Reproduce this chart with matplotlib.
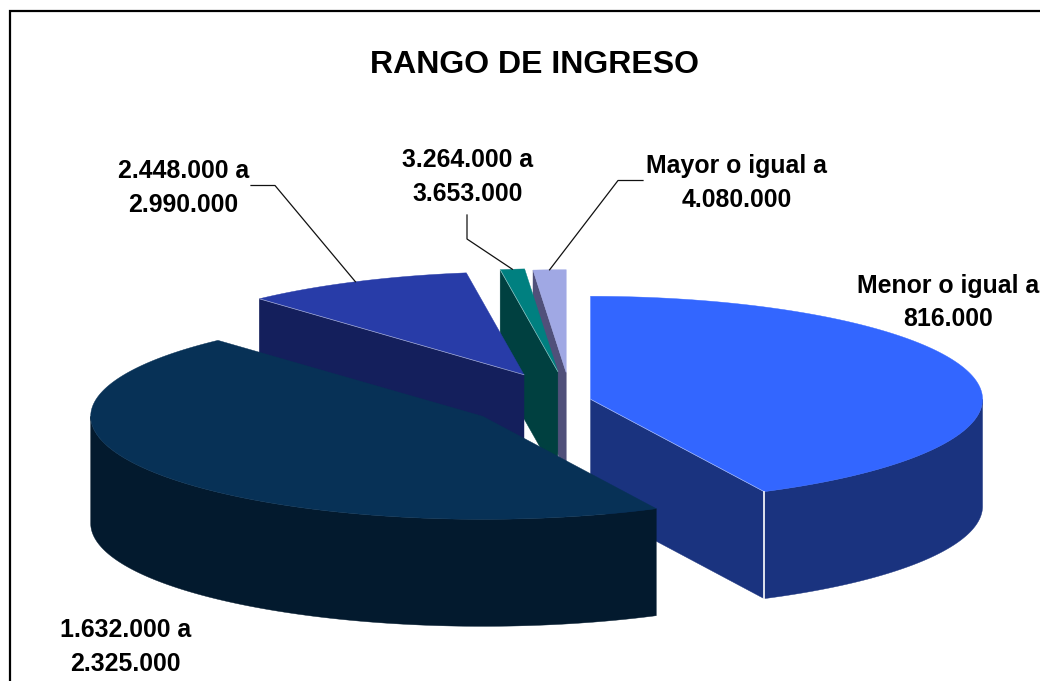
import numpy as np
import matplotlib
matplotlib.use("Agg")
import matplotlib.pyplot as plt
from matplotlib.patches import Polygon

plt.rcParams['font.family'] = ['Liberation Sans', 'DejaVu Sans']

# ---- data ----
title = "RANGO DE INGRESO"
categories = ["Menor o igual a\n816.000", "1.632.000 a\n2.325.000", "2.448.000 a\n2.990.000",
              "3.264.000 a\n3.653.000", "Mayor o igual a\n4.080.000"]
shares = [42.7, 45.5, 9.45, 1.0, 1.35]
explode = [0.052, 0.272, 0.277, 0.283, 0.27]

# ---- style / layout ----
top_colors = ["#3366FF", "#073156", "#283CA8", "#008080", "#A0A8E4"]
side_colors = ["#1A337F", "#031A2E", "#141F5C", "#004040", "#50507A"]
draw_order = [4, 3, 2, 0, 1]
hairline = [True, False, True, True, False]
CX, CY, RX, RY, DEPTH = 570.7, 400.5, 392.0, 103.0, 107.0
label_pos = {0: (948.5, 302.5), 1: (125.5, 647), 2: (183.5, 188), 3: (467.5, 177), 4: (737, 183)}
leaders = {2: [(251, 185.5), (275, 185.5)], 3: [(467, 215), (467, 239)], 4: [(643, 180.5), (618, 180.5)]}

fig = plt.figure(figsize=(10.4, 6.81), dpi=100)
ax = fig.add_axes([0, 0, 1, 1])
ax.set_xlim(0, 1040)
ax.set_ylim(681, 0)
ax.axis("off")

ax.plot([10, 10, 1040], [681, 11, 11], color="black", lw=1.6, solid_joinstyle="miter", zorder=1)

total = sum(shares)
edges = 90 - np.concatenate([[0], np.cumsum(shares)]) / total * 360


def rim_point(c, deg):
    t = np.radians(deg)
    return c[0] + RX * np.cos(t), c[1] - RY * np.sin(t)


geom = []
for i in range(len(shares)):
    a, b = edges[i], edges[i + 1]
    mid = np.radians((a + b) / 2)
    d = explode[i] * RX
    c = (CX + d * np.cos(mid), CY - d * np.sin(mid) * RY / RX)
    geom.append((a, b, c))

z = 2
for i in draw_order:
    a, b, c = geom[i]
    ang = np.linspace(a, b, 200)
    px, py = rim_point(c, ang)
    # cut faces that look at the viewer
    for edge_ang in ([a] if np.cos(np.radians(a)) < -1e-6 else []) + ([b] if np.cos(np.radians(b)) > 1e-6 else []):
        ex, ey = rim_point(c, edge_ang)
        ax.add_patch(Polygon([(ex, ey), c, (c[0], c[1] + DEPTH), (ex, ey + DEPTH)],
                             fc=side_colors[i], ec=side_colors[i], lw=0.3, zorder=z))
    # outer wall (front half of the ellipse)
    lo, hi = max(min(a, b), -180), min(max(a, b), 0)
    if hi > lo:
        wall = np.linspace(lo, hi, 200)
        wx, wy = rim_point(c, wall)
        ax.add_patch(Polygon(np.r_[np.c_[wx, wy], np.c_[wx, wy + DEPTH][::-1]],
                             fc=side_colors[i], ec=side_colors[i], lw=0.3, zorder=z))
    # top surface
    ax.add_patch(Polygon(np.r_[[c], np.c_[px, py]], fc=top_colors[i], ec=top_colors[i], lw=0.3, zorder=z + 0.1))
    # light hairlines on the front edges
    if hairline[i]:
        front = b if i == 0 else a
        ex, ey = rim_point(c, front)
        ax.plot([ex, c[0]], [ey, c[1]], color="white", lw=0.5, alpha=0.55, zorder=z + 0.2)
        if i == 0:
            ax.plot([ex, ex], [ey, ey + DEPTH], color="white", lw=1.2, zorder=z + 0.2)
    z += 1

# leader lines end on the middle of each slice's outer edge
for i, pts in leaders.items():
    a, b, c = geom[i]
    ex, ey = rim_point(c, (a + b) / 2)
    xs, ys = zip(*(pts + [(ex, ey)]))
    ax.plot(xs, ys, color="#111111", lw=0.9, zorder=20)

ax.text(534.5, 65, title, ha="center", va="center", fontsize=23, fontweight="bold", color="black", zorder=30)
for i, label in enumerate(categories):
    x, y = label_pos[i]
    ax.text(x, y, label, ha="center", va="center", fontsize=17.9, fontweight="bold", color="black",
            linespacing=1.48, zorder=30, clip_on=False)

fig.savefig("out.png", dpi=100, facecolor="white")
